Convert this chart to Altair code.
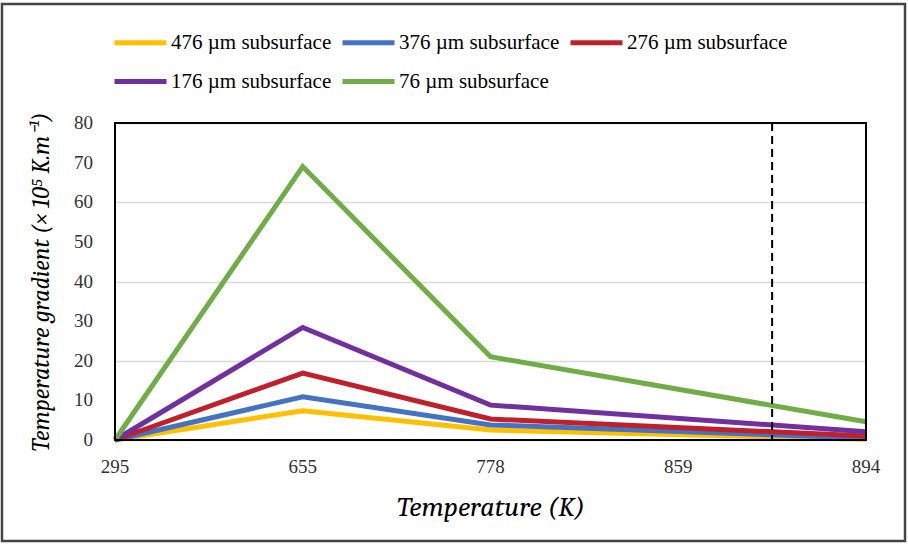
import altair as alt
import pandas as pd

axis_temps = [295, 655, 778, 859, 894]
temps = [295, 655, 778, 894]
series = ["476 µm subsurface", "376 µm subsurface", "276 µm subsurface",
          "176 µm subsurface", "76 µm subsurface"]
g476 = [0, 7.4, 2.5, 0.2]
g376 = [0, 10.9, 3.8, 0.5]
g276 = [0, 16.9, 5.3, 1.0]
g176 = [0, 28.4, 8.8, 2.1]
g76 = [0, 69.0, 21.0, 4.6]
y_ticks = [0, 10, 20, 30, 40, 50, 60, 70, 80]
colors = ["#FFC000", "#4472C4", "#C0202A", "#7030A0", "#70AD47"]
marker_pos = 3.5

SERIF = "Liberation Serif"
TITLE_FONT = "Cambria"

rows = []
for k, (name, vals) in enumerate(zip(series, [g476, g376, g276, g176, g76])):
    for t, v in zip(temps, vals):
        rows.append({"pos": axis_temps.index(t), "temp": t, "value": v, "series": name, "k": k})
df = pd.DataFrame(rows)

xticks_df = pd.DataFrame({"pos": list(range(len(axis_temps))), "label": [str(t) for t in axis_temps]})
yticks_df = pd.DataFrame({"value": y_ticks, "label": [str(v) for v in y_ticks]})

x_scale = alt.Scale(domain=[0, len(axis_temps) - 1], nice=False, zero=False)
y_scale = alt.Scale(domain=[0, 80], nice=False)

x_enc = alt.X("pos:Q", scale=x_scale,
              axis=alt.Axis(values=list(range(len(axis_temps))), labels=False,
                            title="Temperature (K)", grid=False, ticks=False, domain=False,
                            titlePadding=53, titleFontSize=28))

y_enc = alt.Y("value:Q", scale=y_scale,
              axis=alt.Axis(values=y_ticks, labels=False,
                            title="Temperature gradient (× 10⁵ K.m⁻¹)",
                            grid=True, gridColor="#d9d9d9", gridWidth=1.5,
                            ticks=False, domain=False,
                            titlePadding=62, titleFontSize=24))

lines = alt.Chart(df).mark_line(strokeWidth=5).encode(
    x=x_enc,
    y=y_enc,
    color=alt.Color("series:N", scale=alt.Scale(domain=series, range=colors),
                    legend=alt.Legend(orient="none", legendX=-3, legendY=-109,
                                      direction="horizontal", columns=3, title=None,
                                      symbolType="M-1,0H1", symbolStrokeWidth=5, symbolSize=2704,
                                      labelOffset=2, columnPadding=0,
                                      rowPadding=0, padding=0, labelLimit=400,
                                      labelFont=SERIF, labelFontSize=21, labelColor="black")),
    order=alt.Order("k:Q"),
)

x_labels = alt.Chart(xticks_df).mark_text(
    font=SERIF, fontSize=19, color="#333", baseline="middle", align="center"
).encode(x=alt.X("pos:Q", scale=x_scale), y=alt.value(344), text="label:N")

y_labels = alt.Chart(yticks_df).mark_text(
    font=SERIF, fontSize=19, color="#333", baseline="middle", align="right"
).encode(x=alt.value(-22), y=alt.Y("value:Q", scale=y_scale), text="label:N")

rule = alt.Chart(pd.DataFrame({"pos": [marker_pos]})).mark_rule(
    color="black", strokeDash=[8, 5], strokeWidth=2
).encode(x=alt.X("pos:Q", scale=x_scale))

plot_frame = alt.Chart(pd.DataFrame({"a": [0]})).mark_rect(
    fillOpacity=0, stroke="black", strokeWidth=2
).encode(x=alt.value(0), x2=alt.value(751), y=alt.value(0), y2=alt.value(317))

frame = alt.Chart(pd.DataFrame({"a": [0]})).mark_rect(
    fillOpacity=0, stroke="#444", strokeWidth=2.5
).encode(x=alt.value(-113), x2=alt.value(790), y=alt.value(-119), y2=alt.value(418))

chart = alt.layer(lines, rule, plot_frame, frame, x_labels, y_labels).properties(
    width=751, height=317,
    autosize=alt.AutoSizeParams(type="none"),
    padding={"left": 115, "top": 123, "right": 42, "bottom": 108},
    background="white",
).configure(font=SERIF).configure_view(stroke=None).configure_axis(
    titleFont=TITLE_FONT, titleFontStyle="italic", titleFontWeight="normal", titleColor="black",
).configure_legend(labelFont=SERIF)

chart.save("out.html", embed_options={"renderer": "svg", "actions": False})
